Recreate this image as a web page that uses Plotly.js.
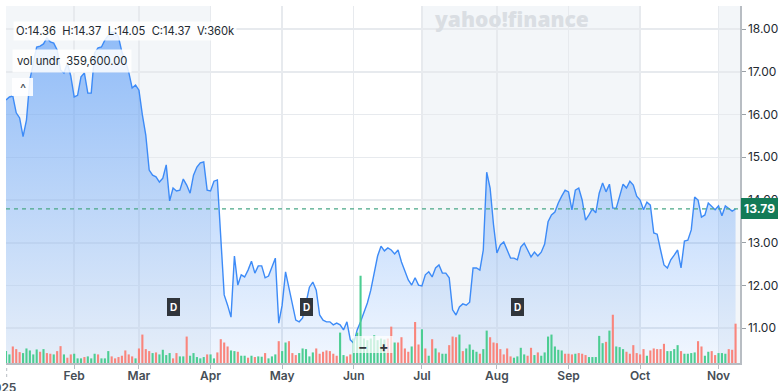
<!DOCTYPE html>
<html><head><meta charset="utf-8">
<script src="https://cdn.plot.ly/plotly-3.0.1.min.js"></script>
<style>html,body{margin:0;padding:0;background:#fff}#chart{width:779px;height:391px}</style>
</head><body><div id="chart"></div>
<script>
// ---- data ----
const startDate = '2025-01-02';
const endDate = '2025-11-10';
const holidays = ['2025-01-09','2025-01-20','2025-02-17','2025-04-18','2025-05-26','2025-06-19','2025-07-04','2025-09-01'];

const closes = [
16.34,16.41,16.43,16.04,15.92,15.48,15.87,16.81,17.20,17.58,17.60,17.65,17.79,17.70,17.67,17.51,17.04,16.97,17.20,16.90,
16.41,16.45,16.88,16.97,16.50,16.50,17.44,17.56,17.58,17.74,17.85,17.92,17.93,17.81,17.46,17.27,16.99,16.62,16.69,
16.57,15.99,15.52,14.70,14.58,14.54,14.42,14.51,14.82,13.98,14.28,14.21,14.23,14.49,14.35,14.16,14.58,14.77,14.87,14.89,14.23,
14.21,14.44,14.47,13.18,11.78,11.54,11.26,12.69,12.01,12.25,12.20,12.36,12.57,12.29,12.46,12.46,12.18,12.22,12.43,12.64,11.12,
11.54,12.32,11.94,11.54,11.19,11.15,11.24,11.59,11.96,12.08,11.89,11.31,11.19,11.15,11.15,11.08,11.12,11.08,10.96,11.15,10.73,
10.65,10.96,11.15,11.36,11.59,11.89,12.32,12.69,12.92,12.81,12.88,12.83,12.74,12.83,12.55,12.32,12.13,12.01,12.18,12.01,
11.99,12.25,12.32,12.20,12.41,12.48,12.29,12.29,12.18,11.43,11.31,11.50,11.57,11.54,11.61,12.41,12.41,12.36,12.83,14.65,14.28,13.42,
12.76,12.95,13.02,12.83,12.64,12.64,12.60,12.90,12.99,12.83,12.67,12.78,12.69,12.78,12.97,13.49,13.65,13.72,13.93,14.09,14.23,
14.19,13.77,14.23,14.28,14.00,13.53,13.65,13.79,13.70,14.16,14.40,14.19,14.37,13.81,13.81,14.12,14.37,14.28,14.44,14.35,14.09,
14.00,13.77,13.95,13.88,13.23,13.20,12.83,12.48,12.41,12.60,12.71,12.83,12.41,13.04,13.06,13.30,14.07,14.00,13.60,13.65,13.93,13.84,13.77,
13.86,13.63,13.86,13.79,13.74,13.79
];

// volume in thousands of shares
const volumes = [
108,78,150,126,99,90,132,114,78,123,102,126,90,84,78,108,153,78,48,78,84,42,42,54,60,42,84,78,42,42,108,60,42,54,66,114,78,60,42,
132,258,126,108,90,96,78,120,72,90,42,90,60,60,240,66,90,54,42,54,78,78,42,96,216,186,150,114,108,102,66,66,48,66,54,60,
57,90,42,60,78,198,108,186,198,90,72,90,132,126,60,96,132,84,102,114,108,84,66,276,72,60,78,222,276,792,222,207,222,252,207,222,213,222,330,186,186,234,132,102,150,372,168,306,132,66,216,132,96,84,84,162,240,234,258,108,132,168,120,102,84,126,294,234,186,180,126,78,132,
60,48,60,138,78,66,138,72,96,66,96,240,258,150,120,114,84,84,78,84,90,84,72,54,54,54,246,180,192,294,438,150,144,126,102,84,162,90,78,126,66,114,132,126,126,174,108,108,126,162,108,84,84,90,96,198,150,66,102,108,72,90,90,84,126,120,357
];

// 1 = up day (green), 0 = down day (red)
const volUp = [
1,1,0,0,0,1,1,1,1,1,0,1,0,0,1,0,0,1,0,0,1,1,1,0,1,1,1,0,1,1,1,0,0,0,0,0,0,0,1,
0,0,0,0,1,0,1,1,1,1,0,0,1,1,0,1,1,1,1,1,0,1,1,0,0,0,0,1,1,0,1,1,0,1,0,1,
1,0,1,1,1,0,1,1,0,0,0,1,1,1,1,1,0,0,0,0,0,0,0,1,1,0,0,1,1,1,1,1,1,1,1,1,1,0,0,1,0,0,0,0,1,0,0,1,0,1,0,1,0,1,1,0,0,0,1,0,1,1,1,1,0,1,1,0,0,0,0,0,0,
0,1,1,1,1,0,0,1,0,1,1,1,1,1,1,1,0,0,0,1,0,0,0,1,1,1,1,1,0,1,0,1,1,1,0,0,0,0,0,0,1,0,0,0,0,0,1,1,1,1,0,1,1,1,1,0,0,1,1,0,0,1,1,1,0,0,0
];

const monthLabels = ['Feb','Mar','Apr','May','Jun','Jul','Aug','Sep','Oct','Nov'];
const monthNums = [2,3,4,5,6,7,8,9,10,11];
const yTicks = [11,12,13,14,15,16,17,18];
const dividendDates = ['2025-03-17','2025-05-12','2025-08-11'];
const shadedMonths = [[1,3],[7,9],[11,11]];
const lastPrice = 13.79;
const ohlcText = 'O:14.36&nbsp;&nbsp;H:14.37&nbsp;&nbsp;L:14.05&nbsp;&nbsp;C:14.37&nbsp;&nbsp;V:360k';
const volText = 'vol undr&nbsp;&nbsp;359,600.00';
const yearLabel = '2025';

// ---- trading-day calendar ----
const dates = [];
(function(){
  let d = new Date(startDate + 'T00:00:00Z');
  const end = new Date(endDate + 'T00:00:00Z');
  while (d <= end) {
    const s = d.toISOString().slice(0,10);
    const wd = d.getUTCDay();
    if (wd !== 0 && wd !== 6 && holidays.indexOf(s) < 0) dates.push(s);
    d = new Date(d.getTime() + 86400000);
  }
})();
const monthOf = s => parseInt(s.slice(5,7),10);
const firstIdx = m => dates.findIndex(s => monthOf(s) === m);
const tickVals = monthNums.map(m => dates[firstIdx(m)]);

const X_MAX = 215.3;
const L = 6, R = 39, T = 6, B = 28, W = 779, H = 391;
const PW = W - L - R, PH = H - T - B;
const px2x = p => (p - L) / PW;
const py2y = p => (H - B - p) / PH;

const shapes = [];
shadedMonths.forEach(([a,b]) => {
  const x0 = a === 1 ? -1 : firstIdx(a) ;
  const nb = firstIdx(b + 1);
  const x1 = nb < 0 ? X_MAX + 1 : nb;
  shapes.push({type:'rect', xref:'x', yref:'paper', x0:x0, x1:x1, y0:0, y1:1,
    fillcolor:'#f3f6f9', line:{width:0}, layer:'below'});
});
shapes.push({type:'line', xref:'paper', yref:'y', x0:0, x1:1, y0:lastPrice, y1:lastPrice,
  line:{color:'#4aa886', width:1.2, dash:'4px,4px'}, layer:'above'});
// zoom control box
shapes.push({type:'rect', xref:'paper', yref:'paper', x0:px2x(353), x1:px2x(393), y0:py2y(353), y1:py2y(336),
  fillcolor:'rgba(255,255,255,0.72)', line:{width:0}, layer:'above'});
// collapse button box
shapes.push({type:'rect', xref:'paper', yref:'paper', x0:px2x(12), x1:px2x(33), y0:py2y(96), y1:py2y(78),
  fillcolor:'rgba(255,255,255,0.9)', line:{width:0}, layer:'above'});
// year marker
shapes.push({type:'line', xref:'paper', yref:'paper', x0:px2x(6.7), x1:px2x(6.7), y0:py2y(368), y1:py2y(379),
  line:{color:'#b8bdc3', width:1, dash:'dot'}});

const F = 'Inter, "Open Sans", sans-serif';
const annotations = [];
annotations.push({xref:'paper', yref:'y', x:1, y:lastPrice, xanchor:'left', yanchor:'middle', xshift:1,
  text:'<b>' + lastPrice.toFixed(2) + '</b>', showarrow:false, bgcolor:'#137b57', bordercolor:'#137b57',
  borderpad:2, font:{family:F, size:12, color:'#ffffff'}});
annotations.push({xref:'paper', yref:'paper', x:px2x(13), y:py2y(31.5), xanchor:'left', yanchor:'middle',
  text:ohlcText, showarrow:false, bgcolor:'rgba(255,255,255,0.85)', borderpad:2, font:{family:F, size:11.2, color:'#232a31'}});
annotations.push({xref:'paper', yref:'paper', x:px2x(12), y:py2y(61), xanchor:'left', yanchor:'middle',
  text:volText, showarrow:false, bgcolor:'rgba(255,255,255,0.85)', borderpad:4, font:{family:F, size:11.2, color:'#232a31'}});
annotations.push({xref:'paper', yref:'paper', x:px2x(22.5), y:py2y(88), xanchor:'center', yanchor:'middle',
  text:'^', showarrow:false, font:{family:F, size:13, color:'#464e56'}});
annotations.push({xref:'paper', yref:'paper', x:px2x(511), y:py2y(19), xanchor:'center', yanchor:'middle',
  text:'yahoo!finance', showarrow:false, font:{family:'"Open Sans", sans-serif', size:21, color:'#dadee3', weight:800}});
dividendDates.forEach(dd => {
  annotations.push({xref:'x', yref:'paper', x:dates.indexOf(dd), y:py2y(307), xanchor:'center', yanchor:'middle',
    text:'<b>D</b>', showarrow:false, bgcolor:'#30353b', bordercolor:'#30353b', borderpad:2,
    font:{family:F, size:10, color:'#ffffff'}});
});
annotations.push({xref:'paper', yref:'paper', x:px2x(363), y:py2y(346), xanchor:'center', yanchor:'middle',
  text:'<b>−</b>', showarrow:false, font:{family:F, size:14, color:'#30353b'}});
annotations.push({xref:'paper', yref:'paper', x:px2x(383.5), y:py2y(346), xanchor:'center', yanchor:'middle',
  text:'<b>+</b>', showarrow:false, font:{family:F, size:14, color:'#30353b'}});
annotations.push({xref:'paper', yref:'paper', x:px2x(18), y:py2y(387), xanchor:'right', yanchor:'middle',
  text:yearLabel, showarrow:false, font:{family:F, size:12, color:'#464e56', weight:600}});

const yMin = 10.187, yMax = 18.538;
const traces = [
  {type:'scatter', mode:'lines', x:dates, y:closes, xaxis:'x', yaxis:'y',
   line:{color:'#3d8bf7', width:1.4}, fill:'tozeroy',
   fillgradient:{type:'vertical', start:yMin, stop:yMax,
     colorscale:[[0,'rgba(61,139,247,0.07)'],[1,'rgba(61,139,247,0.58)']]},
   hoverinfo:'skip'},
  {type:'bar', x:dates, y:volumes, xaxis:'x', yaxis:'y2', width:0.62,
   marker:{color:volUp.map(u => u ? '#4ccd92' : '#f9857c'), line:{width:0}}, hoverinfo:'skip'}
];

const layout = {
  width:W, height:H, margin:{l:L, r:R, t:T, b:B, pad:0},
  paper_bgcolor:'#ffffff', plot_bgcolor:'rgba(0,0,0,0)', showlegend:false, hovermode:false,
  font:{family:F},
  xaxis:{type:'category', range:[0, X_MAX], tickvals:tickVals, ticktext:monthLabels,
    showgrid:true, gridcolor:'#e7eaee', gridwidth:1.5, ticks:'outside', ticklen:4, tickcolor:'#b8bdc3',
    showline:true, linecolor:'#b8bdc3', linewidth:1.5, zeroline:false, automargin:false, ticklabelstandoff:-3,
    tickfont:{family:F, size:12, color:'#464e56', weight:600}},
  yaxis:{side:'right', range:[yMin, yMax], tickvals:yTicks, ticktext:yTicks.map(v => v.toFixed(2)),
    showgrid:true, gridcolor:'#e7eaee', gridwidth:1.5, ticks:'outside', ticklen:4, tickcolor:'#9aa0a6',
    showline:true, linecolor:'#b8bdc3', linewidth:1.5, zeroline:false, automargin:false,
    tickfont:{family:F, size:12, color:'#232a31'}},
  yaxis2:{overlaying:'y', range:[0, 3240], visible:false, showgrid:false, zeroline:false},
  shapes:shapes, annotations:annotations
};
Plotly.newPlot('chart', traces, layout, {staticPlot:true, displayModeBar:false});
</script></body></html>
